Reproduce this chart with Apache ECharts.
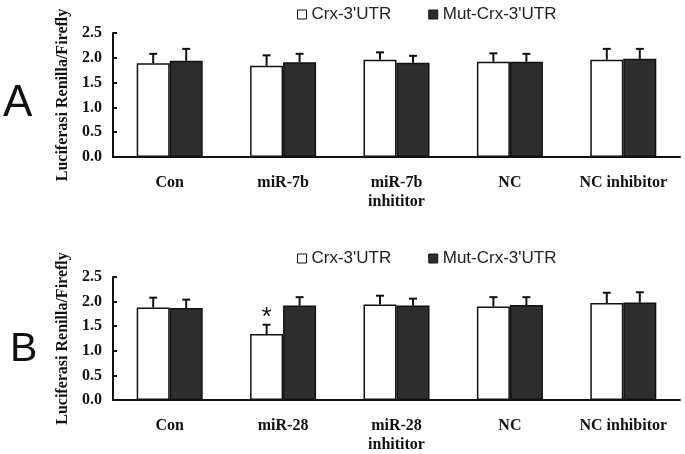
<!DOCTYPE html>
<html><head><meta charset="utf-8">
<script src="https://cdn.jsdelivr.net/npm/echarts@6/dist/echarts.min.js"></script>
<style>html,body{margin:0;padding:0;background:#fff}#c{width:685px;height:454px}</style>
</head><body><div id="c"></div>
<script>
const categoriesA = ['Con', 'miR-7b', 'miR-7b\ninhititor', 'NC', 'NC inhibitor'];
const categoriesB = ['Con', 'miR-28', 'miR-28\ninhititor', 'NC', 'NC inhibitor'];
const crxA = [1.89, 1.84, 1.96, 1.92, 1.96];
const crxErrA = [0.19, 0.21, 0.15, 0.17, 0.22];
const mutA = [1.94, 1.91, 1.90, 1.92, 1.98];
const mutErrA = [0.24, 0.17, 0.14, 0.16, 0.20];
const crxB = [1.88, 1.34, 1.94, 1.90, 1.97];
const crxErrB = [0.20, 0.19, 0.18, 0.19, 0.21];
const mutB = [1.87, 1.92, 1.92, 1.93, 1.98];
const mutErrB = [0.17, 0.17, 0.14, 0.16, 0.21];
const sigB = ['', '*', '', '', ''];
const seriesNames = ["Crx-3'UTR", "Mut-Crx-3'UTR"];
const panelLetters = ['A', 'B'];

const BAR_W = 33;
const serif = 'Liberation Serif';

function errSeries(gi, vals, errs, off, sig) {
  return {
    type: 'custom', xAxisIndex: gi, yAxisIndex: gi, z: 5, silent: true,
    data: vals.map((v, i) => [i, v, errs[i]]),
    renderItem: function (params, api) {
      const i = api.value(0), v = api.value(1), e = api.value(2);
      const p0 = api.coord([i, v]);
      const p1 = api.coord([i, v + e]);
      const x = p0[0] + off;
      const children = [
        {type: 'line', shape: {x1: x, y1: p0[1], x2: x, y2: p1[1]}, style: {stroke: '#111', lineWidth: 2}},
        {type: 'line', shape: {x1: x - 4, y1: p1[1], x2: x + 4, y2: p1[1]}, style: {stroke: '#111', lineWidth: 2}}
      ];
      const s = sig ? sig[params.dataIndex] : '';
      if (s) {
        children.push({type: 'text', style: {text: s, x: x, y: p1[1] - 20, align: 'center', verticalAlign: 'top', font: '26px "Liberation Sans"', fill: '#111'}});
      }
      return {type: 'group', children: children};
    }
  };
}

function barSeries(gi, name, vals, color) {
  return {
    name: name, type: 'bar', xAxisIndex: gi, yAxisIndex: gi, data: vals,
    barWidth: BAR_W, barGap: '0%',
    itemStyle: {color: color, borderColor: '#111', borderWidth: 1.5}
  };
}

const grids = [
  {left: 113, top: 33, width: 567, height: 124},
  {left: 113, top: 277, width: 567, height: 124}
];
const cats = [categoriesA, categoriesB];

const option = {
  animation: false,
  backgroundColor: '#fff',
  grid: grids,
  legend: [0, 1].map(gi => ({
    data: seriesNames.map(n => ({name: n, itemStyle: {borderColor: '#111', borderWidth: 1}})),
    left: 292, top: gi === 0 ? 1 : 245,
    itemWidth: 9, itemHeight: 9, itemGap: 37, icon: 'rect',
    textStyle: {fontFamily: 'Liberation Sans', fontSize: 17, color: '#222'},
    selectedMode: false
  })),
  xAxis: [0, 1].map(gi => ({
    type: 'category', gridIndex: gi, data: cats[gi],
    axisLine: {lineStyle: {color: '#111', width: 2}},
    axisTick: {inside: true, length: 4, lineStyle: {color: '#111', width: 2}},
    axisLabel: {interval: 0, hideOverlap: false, fontFamily: serif, fontWeight: 'bold', fontSize: 16, color: '#111', margin: 16, lineHeight: 19}
  })),
  yAxis: [0, 1].map(gi => ({
    type: 'value', gridIndex: gi, min: 0, max: 2.5, interval: 0.5,
    name: 'Luciferasi Renilla/Firefly', nameLocation: 'middle', nameGap: 36, nameRotate: 90,
    nameTextStyle: {fontFamily: serif, fontWeight: 'bold', fontSize: 16, color: '#111'},
    axisLine: {show: true, lineStyle: {color: '#111', width: 2}},
    axisTick: {show: true, inside: true, length: 4, lineStyle: {color: '#111', width: 2}},
    splitLine: {show: false},
    axisLabel: {fontFamily: serif, fontWeight: 'bold', fontSize: 16, color: '#111', margin: 11,
      formatter: v => v.toFixed(1)}
  })),
  graphic: [
    {type: 'text', left: 3, top: 82, style: {text: panelLetters[0], font: '44px "Liberation Sans"', fill: '#111'}},
    {type: 'text', left: 10, top: 329, style: {text: panelLetters[1], font: '41px "Liberation Sans"', fill: '#111'}}
  ],
  series: [
    barSeries(0, seriesNames[0], crxA, '#ffffff'),
    barSeries(0, seriesNames[1], mutA, '#2e2e2e'),
    errSeries(0, crxA, crxErrA, -BAR_W / 2, null),
    errSeries(0, mutA, mutErrA, BAR_W / 2, null),
    barSeries(1, seriesNames[0], crxB, '#ffffff'),
    barSeries(1, seriesNames[1], mutB, '#2e2e2e'),
    errSeries(1, crxB, crxErrB, -BAR_W / 2, sigB),
    errSeries(1, mutB, mutErrB, BAR_W / 2, null)
  ]
};
const chart = echarts.init(document.getElementById('c'), null, {renderer: 'canvas'});
chart.setOption(option);
</script>
</body></html>
